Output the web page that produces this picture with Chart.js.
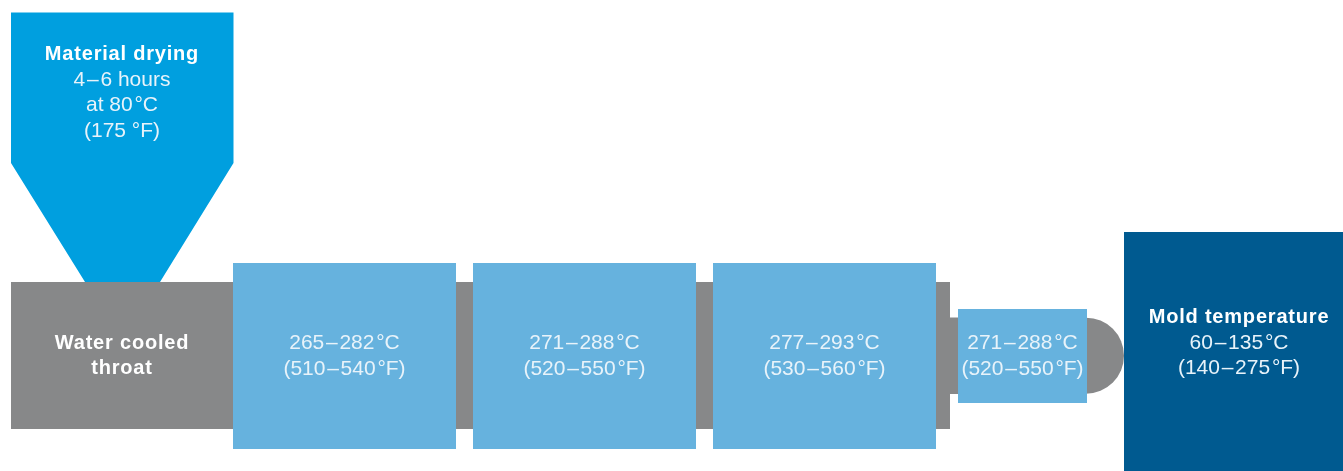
<!DOCTYPE html>
<html>
<head>
<meta charset="utf-8">
<script src="https://cdn.jsdelivr.net/npm/chart.js@4.4.1/dist/chart.umd.min.js"></script>
<style>
  html, body { margin: 0; padding: 0; background: #fff; }
  #wrap { width: 1343px; height: 471px; }
</style>
</head>
<body>
<div id="wrap"><canvas id="processChart"></canvas></div>
<script>
// texts of the diagram (hair spaces around the dashes, as in the print)
const hopperText = ['Material drying', '4\u200a–\u200a6 hours', 'at 80\u200a°C', '(175 °F)'];
const throatText = ['Water cooled', 'throat'];
const zoneTempC = ['265\u200a–\u200a282\u200a°C', '271\u200a–\u200a288\u200a°C', '277\u200a–\u200a293\u200a°C', '271\u200a–\u200a288\u200a°C'];
const zoneTempF = ['(510\u200a–\u200a540\u200a°F)', '(520\u200a–\u200a550\u200a°F)', '(530\u200a–\u200a560\u200a°F)', '(520\u200a–\u200a550\u200a°F)'];
const moldText = ['Mold temperature', '60\u200a–\u200a135\u200a°C', '(140\u200a–\u200a275\u200a°F)'];

// shape extents, in diagram units (y runs downwards)
const zoneFrom = [233, 473, 713, 958];
const zoneTo = [456, 696, 936, 1087];
const zoneTop = [263, 263, 263, 309];
const zoneBottom = [449, 449, 449, 403];
const hopperX = [11, 233.5, 233.5, 160, 85, 11];
const hopperY = [12.5, 12.5, 163, 282, 282, 163];
const barrelX = [11, 950];
const barrelY = [282, 429];
const nozzleX = [950, 1087];
const nozzleY = [317.5, 394];
const nozzleTip = [{ x: 1086, y: 355.7 }];
const moldX = [1124, 1343];
const moldY = [232, 471];

const GRAY = '#878889';
const HOPPER = '#009fdf';
const ZONE = '#66b2de';
const MOLD = '#005a90';

function rect(xs, ys) {
    return [
        { x: xs[0], y: ys[0] }, { x: xs[1], y: ys[0] },
        { x: xs[1], y: ys[1] }, { x: xs[0], y: ys[1] }, { x: xs[0], y: ys[0] }
    ];
}

function shape(data, color, order, extra) {
    return Object.assign({
        data: data,
        backgroundColor: color,
        borderColor: 'transparent',
        borderWidth: 0,
        pointRadius: 0,
        fill: 'shape',
        tension: 0,
        order: order
    }, extra || {});
}

const datasets = [];

// back to front: higher order sits behind
datasets.push({
    type: 'scatter',
    data: nozzleTip,
    backgroundColor: GRAY,
    borderColor: 'transparent',
    borderWidth: 0,
    pointRadius: 38,
    pointStyle: 'circle',
    order: 10
});
datasets.push(shape(rect(barrelX, barrelY), GRAY, 9, {
    lines: throatText, bold: [true, true], textAt: { x: 122, y: 343 }
}));
datasets.push(shape(rect(nozzleX, nozzleY), GRAY, 8));
datasets.push(shape(hopperX.map((x, i) => ({ x: x, y: hopperY[i] })).concat([{ x: hopperX[0], y: hopperY[0] }]), HOPPER, 7, {
    lines: hopperText, bold: [true], textAt: { x: 122, y: 54.5 }
}));
zoneFrom.forEach((x0, i) => {
    datasets.push(shape(rect([x0, zoneTo[i]], [zoneTop[i], zoneBottom[i]]), ZONE, 5, {
        lines: [zoneTempC[i], zoneTempF[i]], bold: [], textAt: { x: (x0 + zoneTo[i]) / 2, y: 343.5 }
    }));
});
datasets.push(shape(rect(moldX, moldY), MOLD, 4, {
    lines: moldText, bold: [true], textAt: { x: 1239, y: 317.5 }
}));

// writes each shape's text after the shapes are drawn
const labelPlugin = {
    id: 'shapeLabels',
    afterDatasetsDraw(chart) {
        const ctx = chart.ctx;
        const xs = chart.scales.x;
        const ys = chart.scales.y;
        ctx.save();
        ctx.textAlign = 'center';
        ctx.textBaseline = 'middle';
        chart.data.datasets.forEach(ds => {
            if (!ds.lines) return;
            const px = xs.getPixelForValue(ds.textAt.x);
            const py = ys.getPixelForValue(ds.textAt.y);
            ds.lines.forEach((line, j) => {
                if (ds.bold[j]) {
                    ctx.font = 'bold 20px "Liberation Sans", Arial, sans-serif';
                    ctx.letterSpacing = '0.8px';
                    ctx.fillStyle = '#ffffff';
                } else {
                    ctx.font = '21px "Liberation Sans", Arial, sans-serif';
                    ctx.letterSpacing = '0px';
                    ctx.fillStyle = '#e8f3fa';
                }
                ctx.fillText(line, px, py + j * 25.5);
            });
        });
        ctx.restore();
    }
};

const ctx = document.getElementById('processChart').getContext('2d');
const processChart = new Chart(ctx, {
    type: 'line',
    data: { datasets: datasets },
    options: {
        responsive: true,
        maintainAspectRatio: false,
        animation: false,
        events: [],
        layout: { padding: 0, autoPadding: false },
        plugins: {
            legend: { display: false },
            tooltip: { enabled: false }
        },
        scales: {
            x: { type: 'linear', min: 0, max: 1343, display: false },
            y: { type: 'linear', min: 0, max: 471, reverse: true, display: false }
        }
    },
    plugins: [labelPlugin]
});
</script>
</body>
</html>
